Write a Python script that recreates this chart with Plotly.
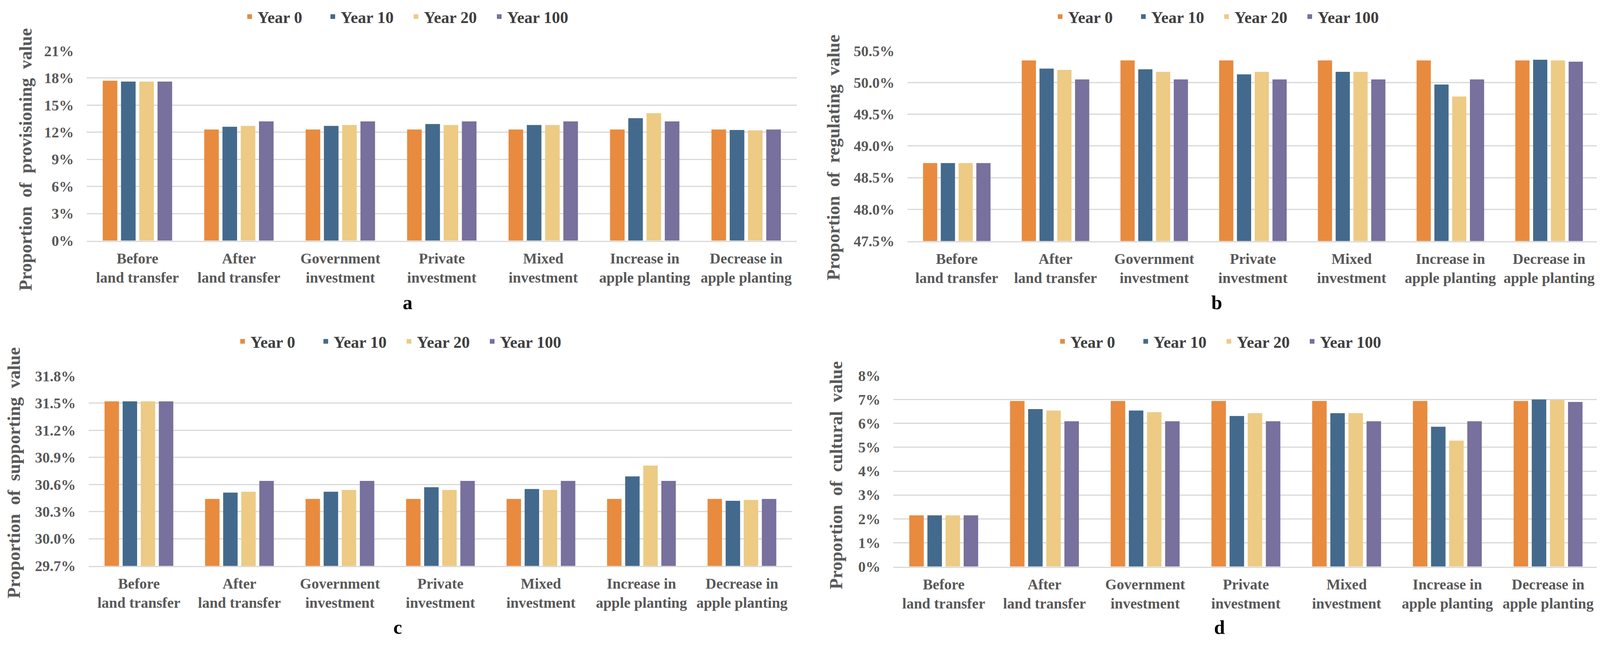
import plotly.graph_objects as go

# The page body adds an 8px margin around the figure; the figure is sized so that
# the page fills the 4136x1655 window exactly.
PAGE_W, PAGE_H, M = 4136, 1655, 8
W, H = PAGE_W - 2 * M, PAGE_H - 2 * M

categories = ["Before<br>land transfer", "After<br>land transfer", "Government<br>investment",
              "Private<br>investment", "Mixed<br>investment", "Increase in<br>apple planting",
              "Decrease in<br>apple planting"]
years = ["Year 0", "Year 10", "Year 20", "Year 100"]
colors = ["#E88B3F", "#436A8C", "#EDCB85", "#78709D"]

# provisioning (%)
prov_y0 = [17.7, 12.3, 12.3, 12.3, 12.3, 12.3, 12.3]
prov_y10 = [17.6, 12.6, 12.7, 12.9, 12.8, 13.55, 12.25]
prov_y20 = [17.6, 12.7, 12.8, 12.8, 12.8, 14.1, 12.2]
prov_y100 = [17.6, 13.2, 13.2, 13.2, 13.2, 13.2, 12.3]
# regulating (%)
reg_y0 = [48.73, 50.35, 50.35, 50.35, 50.35, 50.35, 50.35]
reg_y10 = [48.73, 50.22, 50.21, 50.13, 50.17, 49.97, 50.36]
reg_y20 = [48.73, 50.20, 50.17, 50.17, 50.17, 49.78, 50.35]
reg_y100 = [48.73, 50.05, 50.05, 50.05, 50.05, 50.05, 50.33]
# supporting (%)
sup_y0 = [31.52, 30.44, 30.44, 30.44, 30.44, 30.44, 30.44]
sup_y10 = [31.52, 30.51, 30.52, 30.57, 30.55, 30.69, 30.42]
sup_y20 = [31.52, 30.52, 30.54, 30.54, 30.54, 30.81, 30.43]
sup_y100 = [31.52, 30.64, 30.64, 30.64, 30.64, 30.64, 30.44]
# cultural (%)
cul_y0 = [2.15, 6.94, 6.94, 6.94, 6.94, 6.94, 6.94]
cul_y10 = [2.15, 6.60, 6.54, 6.31, 6.43, 5.86, 7.00]
cul_y20 = [2.15, 6.54, 6.47, 6.43, 6.43, 5.28, 6.98]
cul_y100 = [2.15, 6.09, 6.09, 6.09, 6.09, 6.09, 6.90]

y_titles = ["Proportion  of  provisioning  value", "Proportion  of  regulating  value",
            "Proportion  of  supporting  value", "Proportion  of  cultural  value"]
panel_letters = ["a", "b", "c", "d"]
y_ranges = [[0, 21], [47.5, 50.5], [29.7, 31.8], [0, 8]]
y_dticks = [3, 0.5, 0.3, 1]
y_formats = [".0f", ".1f", ".1f", ".0f"]

panels = [
    [prov_y0, prov_y10, prov_y20, prov_y100],
    [reg_y0, reg_y10, reg_y20, reg_y100],
    [sup_y0, sup_y10, sup_y20, sup_y100],
    [cul_y0, cul_y10, cul_y20, cul_y100],
]

# page-pixel layout (left, right, top, bottom) of each plot area
boxes = [(222, 2040, 112, 611), (2323, 4092, 112, 612),
         (227, 2028, 967, 1466), (2287, 4092, 966, 1468)]
legend_pos = [(1045, 22), (3120, 22), (1027, 876), (3126, 876)]
title_pos = [(65, 398), (2133, 392), (36, 1222), (2141, 1228)]
letter_pos = [(1043, 774), (3115, 774), (1018, 1628), (3122, 1627)]


def fx(px):
    return (px - M) / W


def fy(py):
    return 1 - (py - M) / H


FONT = "Liberation Serif"
TXT = "#595959"

fig = go.Figure()
layout = dict(width=W, height=H, margin=dict(l=0, r=0, t=0, b=0),
              paper_bgcolor="white", plot_bgcolor="white",
              barmode="group", bargap=0.28, bargroupgap=0.2,
              font=dict(family=FONT, color=TXT), annotations=[])

for i, series in enumerate(panels):
    n = "" if i == 0 else str(i + 1)
    lg = "legend" + n
    for j, vals in enumerate(series):
        fig.add_trace(go.Bar(x=categories, y=vals, name=years[j], marker_color=colors[j],
                             marker_line_width=0, xaxis="x" + n, yaxis="y" + n,
                             legend=lg, showlegend=True))
    l, r, t, b = boxes[i]
    layout["xaxis" + n] = dict(domain=[fx(l), fx(r)], anchor="y" + n,
                               showgrid=False, showline=True, linecolor="#D9D9D9", linewidth=2.5,
                               ticks="", ticklabelstandoff=10,
                               tickfont=dict(family=FONT, size=38, color=TXT, weight="bold"))
    layout["yaxis" + n] = dict(domain=[fy(b), fy(t)], anchor="x" + n,
                               range=y_ranges[i], dtick=y_dticks[i], tick0=0,
                               tickformat=y_formats[i], ticksuffix="%",
                               showgrid=True, gridcolor="#D9D9D9", gridwidth=2.5,
                               zeroline=False, showline=False, ticks="",
                               ticklabelstandoff=32,
                               tickfont=dict(family=FONT, size=38, color=TXT, weight="bold"))
    lx, ly = legend_pos[i]
    layout[lg] = dict(orientation="h", x=fx(lx), y=fy(ly), xanchor="center", yanchor="middle",
                      font=dict(family=FONT, size=42, color="#404040", weight="bold"),
                      bgcolor="rgba(0,0,0,0)", entrywidth=168, entrywidthmode="pixels",
                      traceorder="normal")
    tx, ty = title_pos[i]
    layout["annotations"].append(dict(text=y_titles[i], x=fx(tx), y=fy(ty), xref="paper", yref="paper",
                                      showarrow=False, textangle=-90, xanchor="center", yanchor="middle",
                                      font=dict(family=FONT, size=46, color=TXT, weight="bold")))
    px_, py_ = letter_pos[i]
    layout["annotations"].append(dict(text=panel_letters[i], x=fx(px_), y=fy(py_), xref="paper", yref="paper",
                                      showarrow=False, xanchor="center", yanchor="middle",
                                      font=dict(family=FONT, size=50, color="black", weight="bold")))

fig.update_layout(**layout)
fig.write_html("out.html")
